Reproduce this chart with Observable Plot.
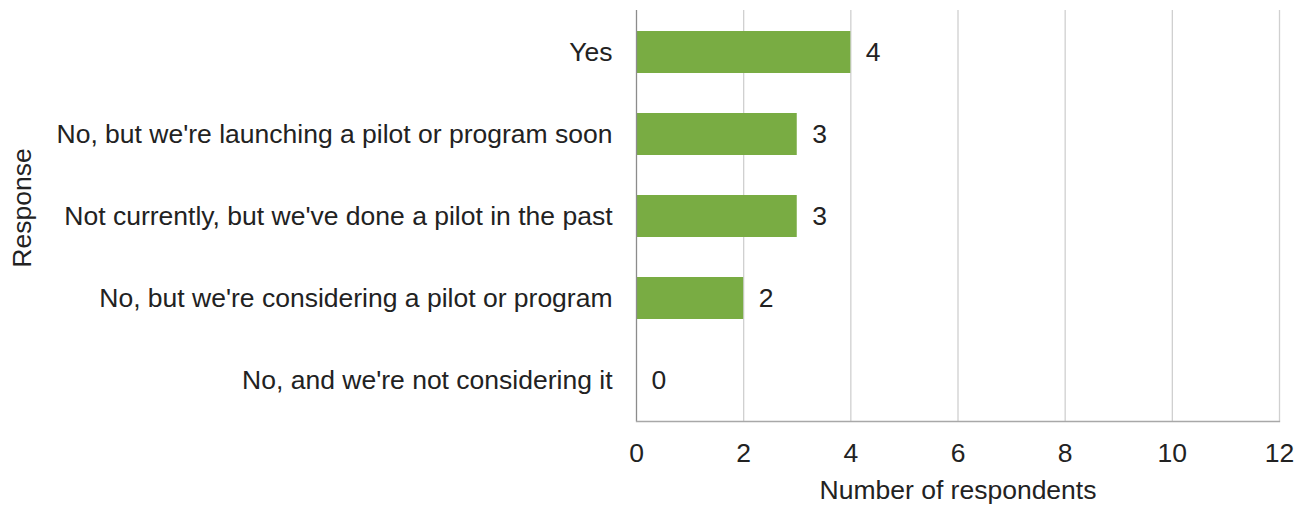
<!DOCTYPE html>
<html>
<head>
<meta charset="utf-8">
<script src="https://cdn.jsdelivr.net/npm/d3@7"></script>
<script src="https://cdn.jsdelivr.net/npm/@observablehq/plot@0.6"></script>
<style>
  html, body { margin: 0; padding: 0; background: #fff; }
  #chart svg { display: block; }
</style>
</head>
<body>
<div id="chart"></div>
<script>
const categories = [
  "Yes",
  "No, but we're launching a pilot or program soon",
  "Not currently, but we've done a pilot in the past",
  "No, but we're considering a pilot or program",
  "No, and we're not considering it"
];
const counts = [4, 3, 3, 2, 0];
const xTicks = [0, 2, 4, 6, 8, 10, 12];
const xLabel = "Number of respondents";
const yLabel = "Response";

const data = categories.map((c, i) => ({response: c, count: counts[i]}));
const FS = 26.5;

const chart = Plot.plot({
  width: 1297,
  height: 506,
  marginLeft: 636,
  marginRight: 18,
  marginTop: 10,
  marginBottom: 85,
  style: {fontFamily: "'Liberation Sans', Arial, sans-serif", fontSize: FS + "px", color: "#222", background: "#fff"},
  x: {domain: [0, 12], ticks: xTicks, label: null},
  y: {domain: categories, paddingInner: 0.49, paddingOuter: 0.245, label: null},
  marks: [
    Plot.ruleX(xTicks.filter(d => d > 0), {stroke: "#d0d0d0", strokeWidth: 1.3, strokeOpacity: 1}),
    Plot.barX(data, {x: "count", y: "response", fill: "#79ac43"}),
    Plot.ruleX([0], {stroke: "#8c8c8c", strokeWidth: 1.3}),
    Plot.frame({anchor: "bottom", stroke: "#a8a8a8", strokeWidth: 1.3}),
    Plot.axisX({ticks: xTicks, tickSize: 0, tickPadding: 22, fontSize: FS, label: null}),
    Plot.axisY({tickSize: 0, tickPadding: 24, fontSize: FS, label: null}),
    Plot.text(data, {x: "count", y: "response", text: d => String(d.count), textAnchor: "start", dx: 15, fontSize: FS, fill: "#222"}),
    Plot.text([xLabel], {frameAnchor: "bottom", dy: 77, fontSize: FS, fill: "#222"}),
    Plot.text([yLabel], {frameAnchor: "left", textAnchor: "middle", dx: -614, dy: -8, rotate: -90, fontSize: FS, fill: "#222"})
  ]
});
document.getElementById("chart").append(chart);
</script>
</body>
</html>
